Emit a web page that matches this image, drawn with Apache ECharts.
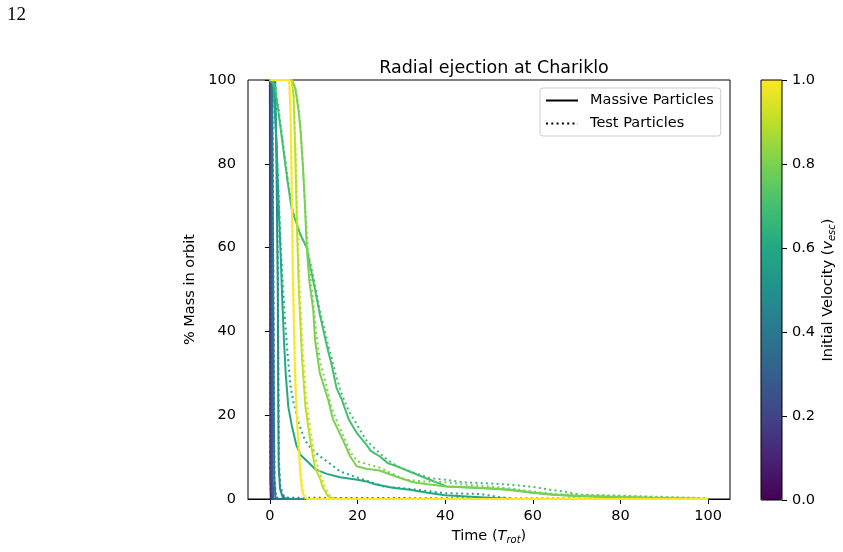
<!DOCTYPE html>
<html>
<head>
<meta charset="utf-8">
<script src="https://cdn.jsdelivr.net/npm/echarts@6/dist/echarts.min.js"></script>
<style>
  html, body { margin: 0; padding: 0; background: #fff; }
  #container { width: 843px; height: 552px; }
</style>
</head>
<body>
<div id="container"></div>
<script>
// viridis colours at 0.0, 0.1 ... 1.0
var viridis = ['#440154', '#482475', '#414487', '#355f8d', '#2a788e', '#21918c',
               '#22a884', '#44bf70', '#7ad151', '#bddf26', '#fde725'];

var velocities = [0.1, 0.2, 0.3, 0.4, 0.5, 0.6, 0.7, 0.8, 0.9, 1.0];
var xTicks = [0, 20, 40, 60, 80, 100];

// [time (T_rot), % mass in orbit]
var massive01 = [[0, 100], [0.05, 50], [0.1, 5], [0.2, 0], [100, 0]];
var test01 = [[0, 100], [0.08, 50], [0.15, 5], [0.25, 0], [100, 0]];
var massive02 = [[0, 100], [0.15, 99], [0.25, 50], [0.35, 5], [0.5, 0], [100, 0]];
var test02 = [[0, 100], [0.18, 99], [0.28, 50], [0.4, 5], [0.55, 0], [100, 0]];
var massive03 = [[0, 100], [0.3, 99], [0.45, 50], [0.6, 5], [0.8, 0], [100, 0]];
var test03 = [[0, 100], [0.32, 99], [0.5, 50], [0.65, 5], [0.85, 0], [100, 0]];
var massive04 = [[0, 100], [0.5, 99], [0.7, 60], [0.9, 20], [1.0, 5], [1.3, 0], [100, 0]];
var test04 = [[0, 100], [0.55, 99], [0.75, 60], [0.95, 20], [1.05, 5], [1.4, 0.3], [100, 0]];
var massive05 = [[0, 100], [1.2, 99.5], [1.5, 80], [1.8, 50], [1.9, 25], [2.0, 8], [2.3, 2.5],
                 [2.8, 0.8], [3.5, 0.2], [5, 0], [100, 0]];
var test05 = [[0, 100], [1.25, 99.5], [1.55, 80], [1.85, 50], [1.95, 25], [2.05, 9], [2.4, 3],
              [3.0, 1], [4, 0.3], [6, 0], [100, 0]];
var massive06 = [[0, 100], [0.8, 99], [1.5, 85], [2.0, 70], [2.5, 57], [2.8, 48], [3.2, 38],
                 [3.6, 30], [4.2, 22], [5, 17.5], [6, 13], [7, 10.5], [8.5, 9], [10.5, 7],
                 [13, 6], [16, 5.2], [20, 4.6], [22, 4.2], [24, 3.5], [28, 2.7], [32, 2.2],
                 [36, 1.5], [40, 0.9], [45, 0.6], [50, 0.3], [55, 0], [100, 0]];
var test06 = [[0, 100], [0.8, 99], [1.5, 85], [2.0, 72], [2.5, 60], [3, 50], [3.5, 42], [4, 35],
              [4.7, 27], [5.4, 23], [6.6, 18], [8, 14], [9.6, 11.8], [11.4, 10.2], [13, 9],
              [16, 6.6], [20, 5.1], [26, 3], [32, 2.4], [40, 1.4], [48, 1.2], [52, 0.5],
              [56, 0], [100, 0]];
var massive07 = [[0, 100], [0.5, 100], [1.2, 98], [2, 92], [3, 84], [4, 76], [5, 69], [6, 66],
                 [7, 63], [8.4, 60], [9.3, 55], [10.3, 50], [11.4, 44], [12.9, 37], [14.1, 32],
                 [15.2, 26.5], [16.4, 23.7], [18, 19], [19.8, 15.8], [22, 13], [23, 11.5],
                 [25, 10.2], [27, 8.5], [29, 7.8], [32.7, 6.2], [36.5, 4.6], [40.3, 3], [44, 2.8],
                 [48, 2.6], [55, 2.2], [60, 1.5], [65, 1], [70, 0.7], [80, 0.4], [90, 0.2],
                 [100, 0]];
var test07 = [[0, 100], [1.2, 99], [2, 93], [3, 85], [4, 77], [5, 70], [6, 66], [7, 63],
              [8.4, 60], [9.3, 56], [10.3, 51], [11.4, 45], [13, 38], [14, 34], [15.2, 29],
              [16.4, 25], [18, 21], [20, 17.5], [22, 14], [24, 12], [26, 10], [28, 8.5],
              [30, 7.4], [33, 6.2], [36.5, 5], [40, 4.6], [44, 4], [48, 3.8], [52, 3.6],
              [56, 3.3], [60, 2.9], [64, 2.2], [67, 1.8], [71, 1], [80, 0.7], [86, 0.5],
              [92, 0.3], [100, 0]];
var massive08 = [[0, 100], [5, 100], [5.8, 98], [6.5, 93], [7, 88], [7.5, 80], [8, 70],
                 [8.4, 60], [9, 52], [9.9, 45], [10.3, 38], [11.4, 30], [12.9, 25],
                 [13.3, 23.7], [14.4, 19], [16.7, 14], [18.3, 10.2], [19.8, 7.8], [22, 7.2],
                 [25, 6.8], [28.9, 5.3], [32.7, 4], [36, 3.5], [40.3, 3], [47.9, 2.7],
                 [52.5, 2.4], [59.4, 1.6], [64.7, 1], [70, 0.8], [80, 0.5], [90, 0.2], [100, 0]];
var test08 = [[0, 100], [5, 100], [5.5, 99], [6, 97], [6.5, 94], [7, 88], [7.5, 80], [8, 71],
              [8.5, 62], [9, 55], [9.9, 47], [10.5, 40], [11.4, 33], [12.9, 27], [14, 22],
              [15.5, 18], [17, 14.5], [18.5, 11], [20, 9], [22, 8.4], [25, 7.5], [28, 6],
              [31, 4.6], [35, 4.2], [40, 4], [45, 3.4], [50, 3], [55, 2.5], [60, 1.8],
              [65, 1.2], [70, 1], [80, 0.8], [90, 0.5], [100, 0.2]];
var massive09 = [[0, 100], [5, 100], [5.4, 96], [5.8, 82], [6.2, 64], [6.6, 50], [7.3, 34],
                 [8.1, 22], [9.2, 14], [10.3, 7.5], [11.4, 5], [12, 3], [13, 1], [13.5, 0.5],
                 [15, 0], [100, 0]];
var test09 = [[0, 100], [5, 100], [5.5, 95], [5.9, 82], [6.3, 65], [6.8, 50], [7.5, 35],
              [8.3, 24], [9.3, 16], [10.3, 10], [11.5, 6], [12.5, 3], [13.5, 1], [14.5, 0.3],
              [16, 0], [100, 0]];
var massive10 = [[0, 100], [4.4, 100], [4.7, 92], [5, 72], [5.2, 55], [5.5, 40], [5.8, 27],
                 [6.2, 18], [6.6, 11.5], [7, 5.5], [7.3, 2.2], [7.8, 0.5], [8.5, 0], [100, 0]];
var test10 = [[0, 100], [4.4, 100], [4.8, 90], [5.1, 72], [5.3, 55], [5.6, 40], [5.9, 28],
              [6.3, 18], [6.7, 12], [7.1, 6], [7.5, 2.5], [8, 0.6], [9, 0], [100, 0]];

var massiveRuns = [massive01, massive02, massive03, massive04, massive05,
                   massive06, massive07, massive08, massive09, massive10];
var testRuns = [test01, test02, test03, test04, test05,
                test06, test07, test08, test09, test10];

var dom = document.getElementById('container');
var myChart = echarts.init(dom, null, { renderer: 'canvas' });

var font = 'DejaVu Sans';
var fs = 14.5;
var dotted = [2, 3.3];

var series = [];
velocities.forEach(function (v, i) {
  var col = viridis[Math.round(v * 10)];
  series.push({
    name: 'massive ' + v, type: 'line', data: massiveRuns[i],
    symbol: 'none', color: col,
    lineStyle: { width: 2, color: col }
  });
  series.push({
    name: 'test ' + v, type: 'line', data: testRuns[i],
    symbol: 'none', color: col,
    lineStyle: { width: 2, color: col, type: dotted, cap: 'butt' }
  });
});
// legend-only entries
series.push({ name: 'Massive Particles', type: 'line', data: [], symbol: 'none',
  color: '#000', lineStyle: { width: 2, color: '#000' } });
series.push({ name: 'Test Particles', type: 'line', data: [], symbol: 'none',
  color: '#000', lineStyle: { width: 2, color: '#000', type: dotted, cap: 'butt' } });
// empty series the colour bar is bound to
var cbIndex = series.length;
series.push({ name: 'cb', type: 'scatter', xAxisIndex: 1, yAxisIndex: 1, data: [] });

var option = {
  backgroundColor: '#fff',
  animation: false,
  textStyle: { fontFamily: font },
  title: [
    {
      text: 'Radial ejection at Chariklo',
      left: 489, top: 54, textAlign: 'center',
      textStyle: { fontFamily: font, fontSize: 17.5, fontWeight: 'normal', color: '#000' }
    },
    {
      text: '12', left: 2, top: 1,
      textStyle: { fontFamily: 'Liberation Serif', fontSize: 19, fontWeight: 'normal', color: '#000' }
    }
  ],
  legend: {
    data: ['Massive Particles', 'Test Particles'],
    orient: 'vertical',
    left: 540, top: 88,
    padding: [5, 7, 5, 5],
    itemWidth: 32, itemHeight: 14, itemGap: 8,
    backgroundColor: 'rgba(255,255,255,0.8)',
    borderColor: '#cccccc', borderWidth: 1, borderRadius: 3,
    itemStyle: { opacity: 0 },
    textStyle: { fontFamily: font, fontSize: fs, color: '#000', padding: [0, 0, 0, 7] }
  },
  visualMap: {
    type: 'continuous', min: 0, max: 1, seriesIndex: cbIndex,
    left: 761, top: 80, padding: 0, itemWidth: 21, itemHeight: 420,
    calculable: false, realtime: false, hoverLink: false, text: null,
    showLabel: false, inRange: { color: viridis }, z: 1
  },
  grid: [
    { left: 248, top: 80, width: 482, height: 419, show: true, borderColor: '#000',
      borderWidth: 1, backgroundColor: 'transparent', containLabel: false },
    { left: 761, top: 80, width: 21, height: 420, show: true, borderColor: '#000',
      borderWidth: 1, backgroundColor: 'transparent', containLabel: false, z: 10 }
  ],
  xAxis: [
    {
      type: 'value', gridIndex: 0, min: -5, max: 105,
      name: 'Time ({i|T}{s|rot})', nameLocation: 'middle', nameGap: 29,
      nameTextStyle: { fontFamily: font, fontSize: fs, color: '#000',
        rich: { i: { fontFamily: font, fontSize: fs, fontStyle: 'italic', color: '#000' },
                s: { fontFamily: font, fontSize: 10, fontStyle: 'italic', color: '#000',
                     verticalAlign: 'bottom', padding: [7, 0, 0, 0] } } },
      axisLine: { show: true, lineStyle: { color: '#000', width: 1 } },
      axisTick: { show: true, inside: false, length: 5, customValues: xTicks,
                  lineStyle: { color: '#000', width: 1 } },
      axisLabel: { customValues: xTicks, margin: 10, fontFamily: font, fontSize: fs, color: '#000' },
      splitLine: { show: false }
    },
    { type: 'category', gridIndex: 1, data: ['cb'], show: false, boundaryGap: true }
  ],
  yAxis: [
    {
      type: 'value', gridIndex: 0, min: 0, max: 100, interval: 20,
      name: '% Mass in orbit', nameLocation: 'middle', nameGap: 36,
      nameTextStyle: { fontFamily: font, fontSize: fs, color: '#000' },
      axisLine: { show: true, lineStyle: { color: '#000', width: 1 } },
      axisTick: { show: true, inside: false, length: 5, lineStyle: { color: '#000', width: 1 } },
      axisLabel: { margin: 12, fontFamily: font, fontSize: fs, color: '#000' },
      splitLine: { show: false }
    },
    {
      type: 'value', gridIndex: 1, min: 0, max: 1, interval: 0.2, position: 'right',
      name: 'Initial Velocity ({i|v}{s|esc})', nameLocation: 'middle', nameGap: 38,
      nameRotate: 90,
      nameTextStyle: { fontFamily: font, fontSize: fs, color: '#000',
        rich: { i: { fontFamily: font, fontSize: fs, fontStyle: 'italic', color: '#000' },
                s: { fontFamily: font, fontSize: 10, fontStyle: 'italic', color: '#000',
                     verticalAlign: 'bottom', padding: [7, 0, 0, 0] } } },
      axisLine: { show: false },
      axisTick: { show: true, inside: false, length: 5, lineStyle: { color: '#000', width: 1 } },
      axisLabel: { margin: 10, fontFamily: font, fontSize: fs, color: '#000',
                   formatter: function (val) { return val.toFixed(1); } },
      splitLine: { show: false }
    }
  ],
  series: series
};

myChart.setOption(option);
window.addEventListener('resize', myChart.resize);
</script>
</body>
</html>
